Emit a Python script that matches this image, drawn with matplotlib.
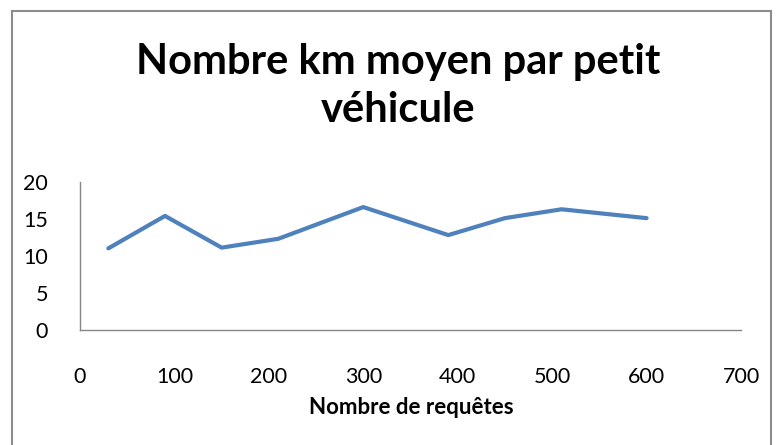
import matplotlib
matplotlib.use("Agg")
import matplotlib.pyplot as plt
from matplotlib.lines import Line2D

# data
requetes = [30, 90, 150, 210, 300, 390, 450, 510, 600]
km_moyen = [11.0, 15.4, 11.1, 12.3, 16.6, 12.8, 15.1, 16.3, 15.1]
x_ticks = [0, 100, 200, 300, 400, 500, 600, 700]
y_ticks = [0, 5, 10, 15, 20]

plt.rcParams['font.family'] = ['Lato', 'DejaVu Sans']

W, H = 779, 445
fig = plt.figure(figsize=(W / 100, H / 100), dpi=100)
ax = fig.add_axes([80 / W, 1 - 329.5 / H, (741 - 80) / W, (329.5 - 182) / H])

ax.plot(requetes, km_moyen, color='#4F81BD', linewidth=3.0, solid_capstyle='round')

ax.set_xlim(0, 700)
ax.set_ylim(0, 20)
ax.set_xticks(x_ticks)
ax.set_yticks(y_ticks)
ax.tick_params(axis='both', length=0, labelsize=15.5, colors='black')
ax.tick_params(axis='x', pad=27)
ax.tick_params(axis='y', pad=23)

for s in ['top', 'right']:
    ax.spines[s].set_visible(False)
for s in ['left', 'bottom']:
    ax.spines[s].set_color('#868686')
    ax.spines[s].set_linewidth(1.0)

fig.text(0.5 * (118 + 678) / W, 1 - 86 / H, 'Nombre km moyen par petit\nvéhicule',
         ha='center', va='center', fontsize=30, fontweight='bold', linespacing=1.3)
fig.text(411 / W, 1 - 407 / H, 'Nombre de requêtes', ha='center', va='center',
         fontsize=16, fontweight='bold')

# chart border
bc = '#8C8C8C'
fig.add_artist(Line2D([12 / W, 12 / W], [0, 1 - 11 / H], transform=fig.transFigure, color=bc, lw=1.5))
fig.add_artist(Line2D([12 / W, 771 / W], [1 - 11 / H, 1 - 11 / H], transform=fig.transFigure, color=bc, lw=1.5))
fig.add_artist(Line2D([771 / W, 771 / W], [0, 1 - 11 / H], transform=fig.transFigure, color=bc, lw=1.5))

fig.savefig('out.png', dpi=100)
